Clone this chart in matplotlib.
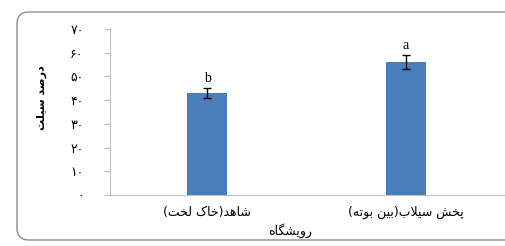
import matplotlib
matplotlib.use('Agg')
import matplotlib.pyplot as plt
from matplotlib.patches import FancyBboxPatch

# data
categories = ['شاهد(خاک لخت)', 'پخش سیلاب(بین بوته)']
values = [43, 56]
errors = [2, 3]
letters = ['b', 'a']
y_ticks = [0, 10, 20, 30, 40, 50, 60, 70]
x_title = 'رویشگاه'
y_title = 'درصد سیلت'

# contextual forms: isolated, final, initial, medial
FORMS = {
    'ا': ('\uFE8D', '\uFE8E', None, None),
    'ب': ('\uFE8F', '\uFE90', '\uFE91', '\uFE92'),
    'پ': ('\uFB56', '\uFB57', '\uFB58', '\uFB59'),
    'ت': ('\uFE95', '\uFE96', '\uFE97', '\uFE98'),
    'خ': ('\uFEA5', '\uFEA6', '\uFEA7', '\uFEA8'),
    'د': ('\uFEA9', '\uFEAA', None, None),
    'ر': ('\uFEAD', '\uFEAE', None, None),
    'س': ('\uFEB1', '\uFEB2', '\uFEB3', '\uFEB4'),
    'ش': ('\uFEB5', '\uFEB6', '\uFEB7', '\uFEB8'),
    'ص': ('\uFEB9', '\uFEBA', '\uFEBB', '\uFEBC'),
    'ک': ('\uFB8E', '\uFB8F', '\uFB90', '\uFB91'),
    'گ': ('\uFB92', '\uFB93', '\uFB94', '\uFB95'),
    'ل': ('\uFEDD', '\uFEDE', '\uFEDF', '\uFEE0'),
    'ن': ('\uFEE5', '\uFEE6', '\uFEE7', '\uFEE8'),
    'ه': ('\uFEE9', '\uFEEA', '\uFEEB', '\uFEEC'),
    'و': ('\uFEED', '\uFEEE', None, None),
    'ی': ('\uFBFC', '\uFBFD', '\uFBFE', '\uFBFF'),
}
MIRROR = {'(': ')', ')': '('}
PERSIAN_DIGITS = str.maketrans('0123456789', '۰۱۲۳۴۵۶۷۸۹')


def dual(c):
    return c in FORMS and FORMS[c][2] is not None


def shape(text):
    """Join letters and put them in visual (left to right) order."""
    res = []
    n = len(text)
    for i, c in enumerate(text):
        prev = text[i - 1] if i > 0 else None
        nxt = text[i + 1] if i + 1 < n else None
        if c not in FORMS:
            res.append(MIRROR.get(c, c))
            continue
        if c == 'ا' and prev == 'ل':
            continue
        p = prev is not None and dual(prev)
        if c == 'ل' and nxt == 'ا':
            res.append('\uFEFC' if p else '\uFEFB')
            continue
        q = dual(c) and nxt is not None and nxt in FORMS
        iso, fin, ini, med = FORMS[c]
        if p and q:
            res.append(med)
        elif p:
            res.append(fin)
        elif q:
            res.append(ini)
        else:
            res.append(iso)
    return ''.join(reversed(res))


plt.rcParams['font.family'] = ['DejaVu Sans']

W, H = 505, 246
fig = plt.figure(figsize=(W / 100, H / 100), dpi=100)

# rounded frame in pixel coords, its right side off the edge
border = FancyBboxPatch((17, 6), 505, 228,
                        boxstyle='round,pad=0,rounding_size=12',
                        transform=None, fill=False,
                        edgecolor='#8c8c8c', linewidth=1.0)
fig.patches.append(border)

ax = fig.add_axes([110 / W, 1 - 195 / H, 395 / W, 166 / H])
x = list(range(len(categories)))
ax.bar(x, values, width=0.2, color='#4a7ebb', zorder=2)
ax.errorbar(x, values, yerr=errors, fmt='none', ecolor='black',
            elinewidth=1.0, capsize=3, capthick=1.0, zorder=3)
for xi, v, e, t in zip(x, values, errors, letters):
    ax.text(xi, v + e + 1.2, t, ha='center', va='bottom',
            fontsize=10, family='Liberation Serif')

ax.set_xlim(-0.49, 1.5)
ax.set_ylim(0, 70)
ax.set_yticks(y_ticks)
ax.set_yticklabels([str(t).translate(PERSIAN_DIGITS) for t in y_ticks], fontsize=9)
ax.set_xticks(x)
ax.set_xticklabels([shape(c) for c in categories], fontsize=9)
ax.tick_params(axis='y', length=4, color='#bfbfbf', pad=15)
ax.tick_params(axis='x', length=0, pad=8)
for s in ['top', 'right']:
    ax.spines[s].set_visible(False)
for s in ['left', 'bottom']:
    ax.spines[s].set_color('#bfbfbf')

fig.text(290 / W, 1 - 231 / H, shape(x_title), ha='center', va='center', fontsize=9)
fig.text(42 / W, 1 - 98 / H, shape(y_title), ha='center', va='center',
         rotation=90, fontsize=8, fontweight='bold')

fig.savefig('out.png', dpi=100)
